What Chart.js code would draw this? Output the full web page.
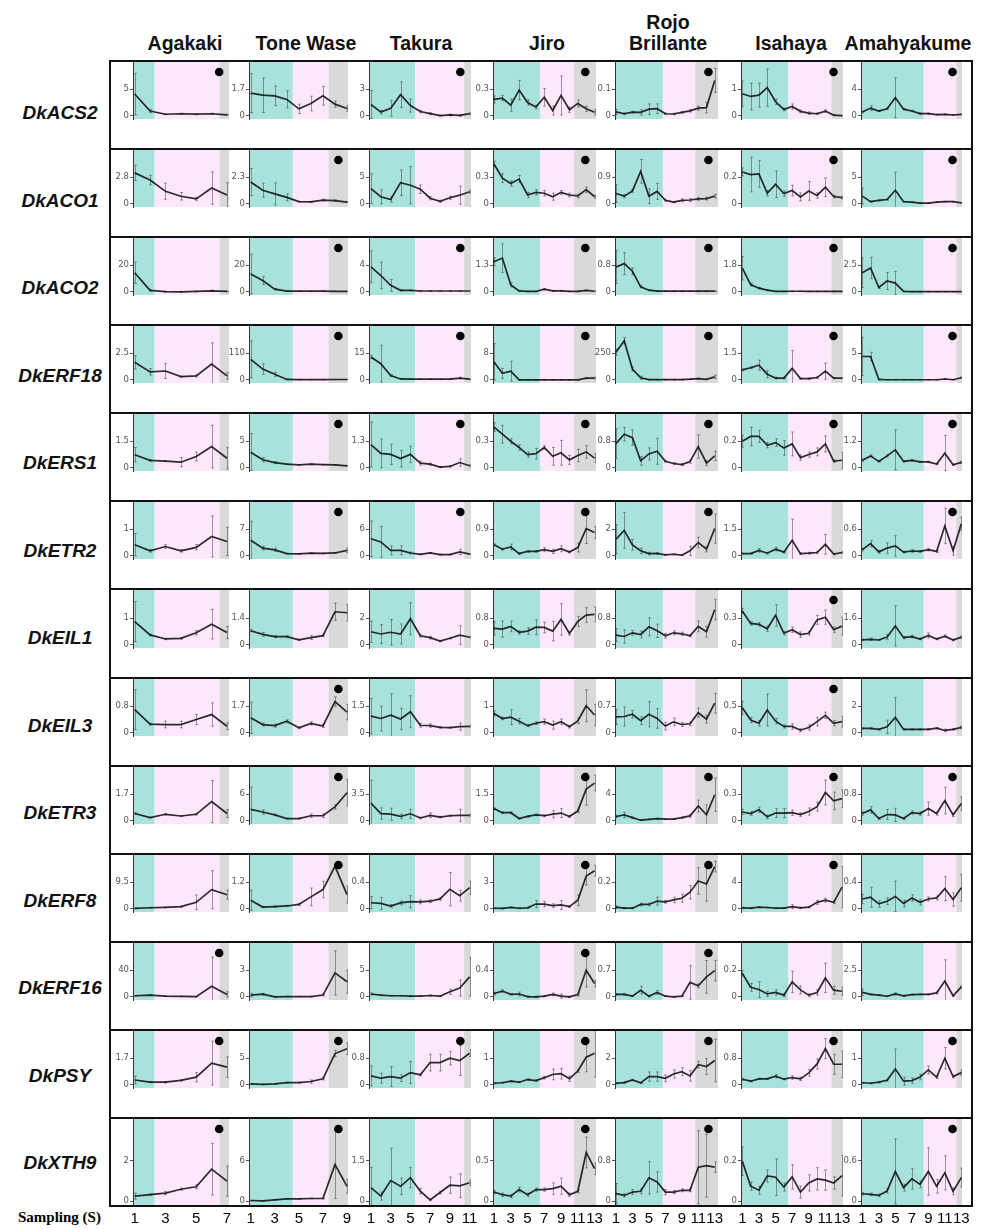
<!DOCTYPE html>
<html>
<head>
<meta charset="utf-8">
<script src="https://cdn.jsdelivr.net/npm/chart.js@4.4.0/dist/chart.umd.min.js"></script>
<style>
  html, body { margin: 0; padding: 0; background: #fff; }
  #page { position: relative; width: 986px; height: 1229px; overflow: hidden; font-family: "Liberation Sans", Arial, sans-serif; }
  #page canvas { position: absolute; }
  .hdr { position: absolute; font-weight: bold; font-size: 19.5px; line-height: 21px; text-align: center; transform: translateX(-50%); white-space: nowrap; color: #111; }
  .gene { position: absolute; font-weight: bold; font-style: italic; font-size: 19px; transform: translate(-50%, -50%); white-space: nowrap; color: #111; }
  .rule { position: absolute; background: #111; z-index: 5; }
  .samp { position: absolute; left: 18px; top: 1209px; font-family: "Liberation Serif", "Times New Roman", serif; font-weight: bold; font-size: 15px; }
</style>
</head>
<body>
<div id="page"></div>
<script>
// ---- data ----
const genes = ["DkACS2", "DkACO1", "DkACO2", "DkERF18", "DkERS1", "DkETR2", "DkEIL1", "DkEIL3", "DkETR3", "DkERF8", "DkERF16", "DkPSY", "DkXTH9"];
const cultivars = ["Agakaki", "Tone Wase", "Takura", "Jiro", "Rojo\nBrillante", "Isahaya", "Amahyakume"];

const samplingAgakaki = [1, 2, 3, 4, 5, 6, 7];
const samplingToneWase = [1, 2, 3, 4, 5, 6, 7, 8, 9];
const samplingTakura = [1, 2, 3, 4, 5, 6, 7, 8, 9, 10, 11];
const sampling13 = [1, 2, 3, 4, 5, 6, 7, 8, 9, 10, 11, 12, 13];

// stage limits on the sampling axis: green (pre), pink, grey (until axis end)
const axisMin = [0.89, 0.86, 0.8, 0.88, 0.88, 0.84, 0.84];
const axisMax = [7.13, 9.08, 11.14, 13.17, 13.4, 13.12, 13.08];
const greenEnd = [2.3, 4.5, 5.49, 6.48, 6.7, 6.52, 8.45];
const pinkEnd = [6.52, 7.47, 10.45, 10.56, 10.63, 11.72, 12.39];
const markerAt = [6.49, 8.28, 10.06, 11.89, 12.24, 11.98, 11.93];

// upper y tick label per gene (row) and cultivar (column)
const yTicks = [
  [5, 1.7, 3, 0.3, 0.1, 1, 4],
  [2.8, 2.3, 5, 0.3, 0.9, 0.2, 5],
  [20, 20, 4, 1.3, 0.8, 1.8, 2.5],
  [2.5, 110, 15, 8, 250, 1.5, 5],
  [1.5, 5, 1.3, 0.3, 0.8, 0.2, 1.2],
  [1, 7, 6, 0.9, 2, 1.5, 0.6],
  [1, 1.4, 2, 0.8, 0.8, 0.3, 1.6],
  [0.8, 1.7, 1.5, 1, 0.7, 0.5, 2],
  [1.7, 6, 3.5, 1.5, 4, 0.3, 0.8],
  [9.5, 1.2, 0.4, 3, 0.2, 4, 0.4],
  [40, 3, 5, 0.4, 0.7, 0.2, 2.5],
  [1.7, 5, 0.8, 1, 2, 0.8, 1],
  [2, 6, 1.5, 0.5, 0.8, 0.2, 0.6]
];

// black dot marker present?
const dots = [
  [1, 0, 1, 1, 1, 1, 1],
  [0, 1, 0, 1, 1, 1, 1],
  [0, 1, 1, 1, 1, 1, 1],
  [0, 1, 1, 1, 1, 1, 1],
  [0, 1, 1, 1, 1, 1, 1],
  [0, 1, 1, 1, 1, 0, 1],
  [0, 0, 0, 0, 0, 1, 0],
  [0, 1, 0, 0, 0, 1, 0],
  [0, 1, 0, 1, 1, 1, 1],
  [0, 1, 0, 1, 1, 1, 0],
  [1, 0, 0, 1, 1, 0, 0],
  [1, 1, 1, 1, 1, 1, 1],
  [1, 1, 0, 1, 1, 0, 1]
];

const agakakiMean = [
  [4.1, 0.9, 0.3, 0.4, 0.33, 0.4, 0.2],
  [3.26, 2.5, 1.32, 0.8, 0.52, 1.66, 0.93],
  [14.4, 1.15, 0.16, 0, 0.3, 0.8, 0.3],
  [1.65, 0.75, 0.83, 0.3, 0.37, 1.48, 0.37],
  [0.74, 0.42, 0.38, 0.32, 0.64, 1.2, 0.54],
  [0.42, 0.19, 0.35, 0.19, 0.32, 0.73, 0.54],
  [0.87, 0.37, 0.22, 0.24, 0.45, 0.77, 0.46],
  [0.7, 0.26, 0.25, 0.25, 0.4, 0.55, 0.2],
  [0.47, 0.21, 0.42, 0.31, 0.42, 1.23, 0.47],
  [0.16, 0.4, 0.55, 0.78, 2.34, 6.85, 5.06],
  [1.7, 2.7, 1.0, 0.7, 0.3, 16, 3.7],
  [0.31, 0.17, 0.17, 0.29, 0.49, 1.39, 1.13],
  [0.25, 0.32, 0.4, 0.59, 0.71, 1.58, 0.99]
];
const agakakiErr = [
  [3.9, 0.3, 0.1, 0.1, 0.1, 0.1, 0.1],
  [0.8, 0.5, 0.85, 0.4, 0.15, 1.7, 1.3],
  [8, 0.5, 0.2, 0.1, 0.2, 0.5, 0.2],
  [0.63, 0.3, 0.7, 0.05, 0.1, 2.0, 0.3],
  [0.4, 0.05, 0.03, 0.25, 0.25, 1.2, 0.6],
  [0.42, 0.05, 0.07, 0.05, 0.1, 0.77, 0.53],
  [0.75, 0.03, 0.03, 0.03, 0.08, 0.55, 0.23],
  [0.6, 0.03, 0.1, 0.1, 0.15, 0.35, 0.1],
  [0.05, 0.03, 0.05, 0.03, 0.05, 1.35, 0.25],
  [0.1, 0.1, 0.1, 0.2, 2.6, 6.8, 1.6],
  [0.5, 0.5, 0.3, 0.2, 0.2, 44, 4],
  [0.25, 0.03, 0.05, 0.05, 0.3, 1.4, 0.65],
  [0.15, 0.03, 0.08, 0.05, 0.1, 1.27, 0.74]
];

const toneWaseMean = [
  [1.45, 1.32, 1.28, 1.05, 0.45, 0.79, 1.28, 0.75, 0.47],
  [1.89, 1.18, 0.86, 0.56, 0.19, 0.17, 0.32, 0.28, 0.15],
  [13.4, 8.5, 2.0, 0.5, 0.5, 0.5, 0.5, 0.4, 0.3],
  [85, 44.7, 23, 1.8, 1, 1, 1, 1.5, 1.5],
  [2.95, 1.52, 0.98, 0.7, 0.57, 0.7, 0.61, 0.57, 0.37],
  [4.1, 2.04, 1.58, 0.58, 0.53, 0.7, 0.64, 0.76, 1.46],
  [0.74, 0.55, 0.43, 0.43, 0.26, 0.38, 0.48, 1.73, 1.68],
  [0.96, 0.53, 0.46, 0.74, 0.32, 0.6, 0.44, 2.0, 1.33],
  [2.6, 2.0, 1.35, 0.5, 0.5, 1.15, 1.15, 3.15, 6.35],
  [0.39, 0.08, 0.1, 0.13, 0.2, 0.54, 0.87, 1.92, 0.64],
  [0.2, 0.3, 0, 0.03, 0.03, 0.03, 0.2, 2.7, 1.7],
  [0.17, 0.08, 0.17, 0.42, 0.42, 0.63, 1.13, 5.88, 6.8],
  [0.1, 0.05, 0.2, 0.35, 0.35, 0.4, 0.4, 5.4, 2.2]
];
const toneWaseErr = [
  [1.25, 1.1, 0.63, 0.55, 0.3, 0.47, 0.6, 0.2, 0.18],
  [1.17, 0.6, 0.95, 0.3, 0.03, 0.03, 0.08, 0.08, 0.05],
  [15, 3, 0.5, 0.2, 0.1, 0.1, 0.1, 0.1, 0.1],
  [76, 22, 8, 0.5, 0.3, 0.3, 0.3, 0.3, 0.3],
  [3.5, 0.4, 0.2, 0.05, 0.05, 0.1, 0.05, 0.05, 0.05],
  [5, 0.5, 0.4, 0.1, 0.05, 0.1, 0.1, 0.1, 0.6],
  [0.05, 0.1, 0.05, 0.05, 0.03, 0.1, 0.05, 0.45, 0.43],
  [1.0, 0.1, 0.1, 0.1, 0.05, 0.1, 0.1, 0.3, 0.5],
  [5, 0.5, 0.2, 0.1, 0.1, 0.4, 0.4, 0.5, 3.0],
  [0.45, 0.03, 0.03, 0.03, 0.05, 0.4, 0.37, 0.1, 0.38],
  [0.2, 0.1, 0.02, 0.02, 0.02, 0.02, 0.1, 2.5, 1.3],
  [0.1, 0.05, 0.05, 0.1, 0.1, 0.3, 0.2, 0.6, 1.1],
  [0.05, 0.03, 0.05, 0.05, 0.05, 0.05, 0.05, 5.0, 1.0]
];

const takuraMean = [
  [1.28, 0.42, 0.86, 2.39, 1.16, 0.49, 0.25, 0.02, 0.1, 0.05, 0.25],
  [2.85, 1.34, 0.81, 3.98, 3.5, 2.76, 1.06, 0.49, 1.14, 1.63, 2.28],
  [3.77, 2.46, 0.98, 0.23, 0.23, 0.13, 0.13, 0.13, 0.13, 0.13, 0.13],
  [12.9, 9.1, 2.4, 0.5, 0.37, 0.37, 0.37, 0.37, 0.37, 1.0, 0.37],
  [1.14, 0.71, 0.66, 0.45, 0.66, 0.23, 0.18, 0.04, 0.07, 0.26, 0.1],
  [3.85, 3.15, 1.25, 1.25, 0.65, 0.35, 0.65, 0.3, 0.3, 0.9, 0.4],
  [0.98, 0.81, 0.94, 0.81, 1.95, 0.68, 0.54, 0.28, 0.49, 0.73, 0.57],
  [0.94, 0.81, 1.0, 0.78, 1.19, 0.43, 0.41, 0.31, 0.29, 0.35, 0.37],
  [2.33, 0.96, 0.875, 0.58, 0.93, 0.38, 0.73, 0.5, 0.67, 0.73, 0.73],
  [0.092, 0.082, 0.043, 0.089, 0.108, 0.105, 0.115, 0.15, 0.295, 0.197, 0.318],
  [0.54, 0.33, 0.21, 0.21, 0.13, 0.13, 0.25, 0.13, 0.96, 1.67, 3.75],
  [0.27, 0.2, 0.25, 0.2, 0.37, 0.3, 0.67, 0.67, 0.8, 0.73, 0.95],
  [0.5, 0.19, 0.76, 0.55, 0.87, 0.37, 0.05, 0.32, 0.59, 0.57, 0.68]
];
const takuraErr = [
  [1.6, 0.2, 0.9, 1.45, 0.74, 0.15, 0.1, 0.05, 0.1, 0.1, 0.1],
  [2.8, 1.3, 0.5, 2.4, 3.5, 0.8, 0.3, 0.2, 0.3, 1.7, 0.3],
  [2.4, 2.0, 0.9, 0.1, 0.05, 0.03, 0.03, 0.03, 0.03, 0.03, 0.03],
  [1.0, 10.4, 0.5, 0.2, 0.1, 0.1, 0.1, 0.1, 0.1, 0.5, 0.2],
  [1.1, 0.7, 0.5, 0.4, 0.4, 0.1, 0.05, 0.03, 0.03, 0.18, 0.05],
  [4, 3.5, 1.0, 1.0, 0.2, 0.1, 0.1, 0.1, 0.1, 0.6, 0.1],
  [0.8, 0.7, 0.95, 0.75, 1.2, 0.1, 0.1, 0.05, 0.05, 0.7, 0.05],
  [1.0, 0.7, 1.2, 0.6, 0.9, 0.1, 0.1, 0.05, 0.03, 0.2, 0.05],
  [3.0, 0.75, 0.8, 0.3, 0.6, 0.1, 0.3, 0.1, 0.1, 0.8, 0.1],
  [0.09, 0.09, 0.02, 0.03, 0.09, 0.03, 0.02, 0.02, 0.25, 0.08, 0.1],
  [0.2, 0.1, 0.05, 0.05, 0.05, 0.05, 0.1, 0.05, 0.5, 1.5, 3.6],
  [0.3, 0.15, 0.3, 0.1, 0.33, 0.03, 0.25, 0.25, 0.2, 0.45, 0.1],
  [0.75, 0.15, 1.2, 0.3, 0.37, 0.1, 0.03, 0.05, 0.3, 0.44, 0.1]
];

const jiroMean = [
  [0.185, 0.2, 0.12, 0.29, 0.15, 0.1, 0.21, 0.06, 0.23, 0.07, 0.14, 0.08, 0.04],
  [0.45, 0.29, 0.23, 0.28, 0.1, 0.13, 0.12, 0.08, 0.13, 0.1, 0.09, 0.16, 0.08],
  [1.47, 1.65, 0.34, 0.05, 0.02, 0.02, 0.13, 0.05, 0.05, 0.02, 0.02, 0.07, 0.03],
  [5.4, 1.95, 2.6, 0, 0, 0, 0, 0, 0, 0, 0, 0.52, 0.52],
  [0.46, 0.38, 0.3, 0.23, 0.15, 0.16, 0.23, 0.13, 0.17, 0.09, 0.14, 0.18, 0.11],
  [0.375, 0.225, 0.3, 0.075, 0.15, 0.15, 0.21, 0.15, 0.24, 0.13, 0.28, 0.92, 0.79],
  [0.49, 0.47, 0.55, 0.37, 0.41, 0.53, 0.52, 0.41, 0.76, 0.34, 0.7, 0.89, 0.91],
  [0.73, 0.54, 0.59, 0.44, 0.27, 0.36, 0.42, 0.29, 0.42, 0.23, 0.45, 1.02, 0.67],
  [0.69, 0.46, 0.46, 0.13, 0.25, 0.34, 0.29, 0.375, 0.44, 0.25, 0.56, 1.79, 2.13],
  [0.07, 0.05, 0.17, 0.07, 0.12, 0.54, 0.54, 0.37, 0.44, 0.25, 0.98, 3.69, 4.3],
  [0.05, 0.087, 0.037, 0.043, 0.003, 0, 0.01, 0.037, 0.01, 0, 0.033, 0.4, 0.2],
  [0.06, 0.08, 0.14, 0.1, 0.2, 0.16, 0.27, 0.39, 0.42, 0.23, 0.52, 1.04, 1.19],
  [0.113, 0.08, 0.063, 0.143, 0.08, 0.143, 0.143, 0.155, 0.185, 0.08, 0.122, 0.6, 0.4]
];
const jiroErr = [
  [0.04, 0.03, 0.07, 0.11, 0.03, 0.02, 0.1, 0.05, 0.22, 0.03, 0.04, 0.03, 0.03],
  [0.03, 0.05, 0.03, 0.04, 0.03, 0.03, 0.03, 0.04, 0.02, 0.02, 0.02, 0.03, 0.02],
  [0.2, 0.7, 0.1, 0.02, 0.01, 0.01, 0.04, 0.02, 0.02, 0.01, 0.01, 0.02, 0.01],
  [5.5, 1.5, 3.0, 0.05, 0.05, 0.05, 0.05, 0.05, 0.05, 0.05, 0.05, 0.2, 0.3],
  [0.05, 0.1, 0.03, 0.03, 0.03, 0.06, 0.02, 0.1, 0.14, 0.05, 0.07, 0.07, 0.05],
  [0.03, 0.03, 0.1, 0.03, 0.03, 0.03, 0.07, 0.07, 0.1, 0.03, 0.15, 0.5, 0.2],
  [0.2, 0.24, 0.16, 0.05, 0.1, 0.22, 0.16, 0.29, 0.47, 0.05, 0.15, 0.22, 0.22],
  [0.1, 0.05, 0.28, 0.1, 0.03, 0.05, 0.1, 0.15, 0.1, 0.05, 0.1, 0.6, 0.4],
  [0.05, 0.05, 0.05, 0.03, 0.05, 0.05, 0.05, 0.2, 0.25, 0.05, 0.1, 0.9, 0.44],
  [0.05, 0.05, 0.05, 0.05, 0.05, 0.4, 0.3, 0.2, 0.5, 0.1, 0.6, 1.0, 0.6],
  [0.02, 0.02, 0.01, 0.03, 0.01, 0.01, 0.01, 0.02, 0.03, 0.01, 0.02, 0.25, 0.05],
  [0.02, 0.02, 0.02, 0.02, 0.03, 0.03, 0.05, 0.2, 0.2, 0.1, 0.05, 0.55, 0.9],
  [0.02, 0.02, 0.02, 0.03, 0.02, 0.02, 0.02, 0.07, 0.1, 0.02, 0.02, 0.19, 0.07]
];

const rojoMean = [
  [0.015, 0.008, 0.014, 0.013, 0.025, 0.027, 0.008, 0.007, 0.013, 0.019, 0.029, 0.031, 0.133],
  [0.35, 0.26, 0.44, 1.1, 0.26, 0.42, 0.12, 0.06, 0.12, 0.13, 0.17, 0.18, 0.26],
  [0.75, 0.85, 0.62, 0.15, 0.05, 0.02, 0.02, 0.02, 0.02, 0.02, 0.02, 0.02, 0.02],
  [260, 368, 102, 20, 2, 2, 2, 2, 2, 6, 12, 4, 28],
  [0.73, 1.01, 0.91, 0.21, 0.42, 0.5, 0.2, 0.13, 0.1, 0.19, 0.64, 0.14, 0.36],
  [1.25, 1.92, 0.83, 0.38, 0.17, 0.18, 0.08, 0.12, 0.05, 0.38, 1.0, 0.5, 2.05],
  [0.29, 0.25, 0.36, 0.31, 0.54, 0.42, 0.27, 0.36, 0.33, 0.27, 0.55, 0.39, 1.05],
  [0.42, 0.43, 0.49, 0.32, 0.49, 0.38, 0.18, 0.29, 0.22, 0.24, 0.53, 0.36, 0.78],
  [0.66, 0.89, 0.49, 0.1, 0.23, 0.33, 0.26, 0.26, 0.49, 0.75, 2.23, 0.92, 3.93],
  [0.013, 0.005, 0.005, 0.033, 0.033, 0.058, 0.053, 0.067, 0.08, 0.125, 0.21, 0.187, 0.317],
  [0.064, 0.064, 0.018, 0.175, 0.018, 0.117, 0.018, 0, 0.018, 0.38, 0.29, 0.525, 0.69],
  [0.12, 0.17, 0.37, 0.15, 0.62, 0.62, 0.49, 0.82, 0.99, 0.67, 1.51, 1.38, 1.83],
  [0.148, 0.114, 0.18, 0.195, 0.46, 0.38, 0.18, 0.18, 0.215, 0.215, 0.67, 0.7, 0.67]
];
const rojoErr = [
  [0.01, 0.003, 0.003, 0.01, 0.02, 0.018, 0.003, 0.003, 0.003, 0.005, 0.008, 0.02, 0.045],
  [0.3, 0.05, 0.05, 0.4, 0.25, 0.27, 0.03, 0.02, 0.05, 0.05, 0.05, 0.05, 0.06],
  [0.5, 0.33, 0.1, 0.03, 0.01, 0.01, 0.01, 0.01, 0.01, 0.01, 0.01, 0.01, 0.01],
  [30, 30, 20, 15, 2, 2, 2, 2, 2, 3, 5, 2, 15],
  [0.45, 0.2, 0.23, 0.13, 0.18, 0.39, 0.03, 0.03, 0.03, 0.05, 0.35, 0.07, 0.14],
  [1.1, 1.35, 0.4, 0.2, 0.1, 0.05, 0.03, 0.03, 0.02, 0.35, 0.4, 0.2, 1.1],
  [0.2, 0.2, 0.07, 0.1, 0.27, 0.2, 0.07, 0.06, 0.05, 0.03, 0.16, 0.16, 0.3],
  [0.2, 0.25, 0.1, 0.1, 0.33, 0.26, 0.1, 0.1, 0.05, 0.05, 0.12, 0.1, 0.26],
  [0.2, 0.4, 0.1, 0.05, 0.05, 0.05, 0.05, 0.05, 0.1, 0.2, 0.9, 1.5, 2.5],
  [0.01, 0.005, 0.005, 0.01, 0.01, 0.03, 0.01, 0.02, 0.03, 0.05, 0.1, 0.13, 0.04],
  [0.02, 0.02, 0.01, 0.1, 0.02, 0.05, 0.01, 0.01, 0.01, 0.44, 0.05, 0.43, 0.27],
  [0.05, 0.05, 0.05, 0.05, 0.35, 0.35, 0.25, 0.3, 0.3, 0.4, 0.25, 0.6, 1.6],
  [0.2, 0.03, 0.05, 0.05, 0.32, 0.2, 0.05, 0.03, 0.03, 0.03, 0.72, 0.62, 0.1]
];

const isahayaMean = [
  [0.83, 0.73, 0.78, 1.06, 0.53, 0.24, 0.35, 0.17, 0.1, 0.08, 0.18, 0.03, 0.01],
  [0.24, 0.22, 0.225, 0.08, 0.147, 0.077, 0.1, 0.052, 0.097, 0.063, 0.125, 0.055, 0.047],
  [1.6, 0.49, 0.25, 0.12, 0.03, 0.03, 0.04, 0.04, 0.03, 0.03, 0.03, 0.03, 0.03],
  [0.56, 0.68, 0.83, 0.32, 0.1, 0.1, 0.65, 0.07, 0.07, 0.13, 0.49, 0.1, 0.1],
  [0.2, 0.236, 0.236, 0.17, 0.19, 0.15, 0.18, 0.077, 0.1, 0.12, 0.18, 0.05, 0.057],
  [0.125, 0.125, 0.31, 0.15, 0.38, 0.21, 0.875, 0.125, 0.15, 0.19, 0.65, 0.1, 0.19],
  [0.38, 0.24, 0.23, 0.18, 0.33, 0.13, 0.17, 0.115, 0.13, 0.28, 0.31, 0.17, 0.21],
  [0.47, 0.24, 0.18, 0.43, 0.22, 0.12, 0.12, 0.05, 0.1, 0.21, 0.33, 0.18, 0.21],
  [0.1, 0.083, 0.125, 0.045, 0.088, 0.088, 0.093, 0.07, 0.105, 0.16, 0.32, 0.225, 0.25],
  [0.16, 0.1, 0.26, 0.2, 0.1, 0.1, 0.33, 0.16, 0.26, 0.98, 1.31, 0.98, 3.28],
  [0.177, 0.072, 0.055, 0.022, 0.033, 0.013, 0.113, 0.052, 0.013, 0.033, 0.142, 0.05, 0.042],
  [0.17, 0.11, 0.18, 0.18, 0.26, 0.17, 0.22, 0.18, 0.36, 0.63, 1.09, 0.62, 0.62],
  [0.197, 0.074, 0.054, 0.124, 0.118, 0.07, 0.12, 0.045, 0.09, 0.11, 0.104, 0.09, 0.126]
];
const isahayaErr = [
  [0.48, 0.5, 0.45, 0.7, 0.1, 0.05, 0.1, 0.05, 0.05, 0.03, 0.05, 0.02, 0.01],
  [0.03, 0.13, 0.1, 0.02, 0.1, 0.02, 0.04, 0.03, 0.07, 0.02, 0.07, 0.01, 0.01],
  [0.8, 0.1, 0.05, 0.03, 0.01, 0.01, 0.02, 0.01, 0.01, 0.01, 0.01, 0.01, 0.01],
  [0.05, 0.05, 0.28, 0.2, 0.05, 0.05, 1.0, 0.03, 0.03, 0.05, 0.45, 0.03, 0.03],
  [0.045, 0.07, 0.045, 0.02, 0.03, 0.055, 0.09, 0.02, 0.02, 0.03, 0.06, 0.01, 0.06],
  [0.03, 0.03, 0.1, 0.05, 0.1, 0.05, 1.2, 0.05, 0.05, 0.05, 0.55, 0.03, 0.05],
  [0.03, 0.02, 0.02, 0.03, 0.12, 0.02, 0.03, 0.03, 0.02, 0.05, 0.08, 0.03, 0.1],
  [0.12, 0.05, 0.05, 0.3, 0.05, 0.03, 0.05, 0.03, 0.05, 0.08, 0.06, 0.05, 0.1],
  [0.03, 0.02, 0.03, 0.02, 0.05, 0.05, 0.03, 0.02, 0.04, 0.05, 0.14, 0.1, 0.1],
  [0.1, 0.05, 0.05, 0.05, 0.05, 0.05, 0.3, 0.1, 0.1, 0.3, 0.3, 0.2, 3.1],
  [0.02, 0.03, 0.06, 0.02, 0.02, 0.01, 0.08, 0.03, 0.01, 0.02, 0.11, 0.03, 0.03],
  [0.03, 0.02, 0.02, 0.02, 0.05, 0.02, 0.05, 0.05, 0.1, 0.15, 0.3, 0.3, 0.4],
  [0.07, 0.02, 0.02, 0.03, 0.09, 0.02, 0.06, 0.03, 0.04, 0.055, 0.05, 0.03, 0.1]
];

const amahyakumeMean = [
  [0.57, 1.17, 0.73, 1.07, 2.73, 1.0, 0.73, 0.33, 0.33, 0.2, 0.23, 0.13, 0.23],
  [1.46, 0.41, 0.65, 0.81, 2.56, 0.41, 0.33, 0.12, 0.12, 0.33, 0.41, 0.41, 0.2],
  [1.8, 2.25, 0.41, 1.02, 0.82, 0.04, 0.02, 0.02, 0.02, 0.02, 0.02, 0.02, 0.02],
  [4.39, 4.39, 0.08, 0.02, 0.02, 0.02, 0.02, 0.02, 0.02, 0.02, 0.16, 0.02, 0.4],
  [0.34, 0.54, 0.29, 0.54, 0.81, 0.29, 0.34, 0.27, 0.27, 0.17, 0.66, 0.14, 0.25],
  [0.14, 0.275, 0.09, 0.175, 0.225, 0.085, 0.11, 0.1, 0.14, 0.1, 0.675, 0.115, 0.725],
  [0.3, 0.33, 0.29, 0.46, 1.13, 0.43, 0.49, 0.35, 0.56, 0.35, 0.52, 0.29, 0.46],
  [0.33, 0.33, 0.26, 0.46, 1.16, 0.26, 0.26, 0.26, 0.26, 0.35, 0.18, 0.26, 0.41],
  [0.22, 0.33, 0.07, 0.19, 0.18, 0.07, 0.25, 0.22, 0.37, 0.22, 0.61, 0.18, 0.52],
  [0.148, 0.174, 0.075, 0.115, 0.187, 0.082, 0.164, 0.098, 0.148, 0.164, 0.305, 0.141, 0.318],
  [0.42, 0.23, 0.17, 0.06, 0.27, 0.1, 0.21, 0.23, 0.23, 0.375, 1.48, 0.1, 0.94],
  [0.08, 0.06, 0.1, 0.17, 0.6, 0.14, 0.16, 0.29, 0.56, 0.29, 1.0, 0.31, 0.46],
  [0.11, 0.1, 0.086, 0.15, 0.44, 0.2, 0.33, 0.25, 0.44, 0.22, 0.42, 0.146, 0.35]
];
const amahyakumeErr = [
  [0.1, 0.35, 0.1, 0.1, 3.0, 0.1, 0.1, 0.1, 0.1, 0.05, 0.05, 0.05, 0.05],
  [1.5, 0.1, 0.1, 0.1, 3.4, 0.05, 0.05, 0.05, 0.05, 0.05, 0.05, 0.05, 0.05],
  [1.4, 1.0, 0.1, 0.8, 1.1, 0.02, 0.01, 0.01, 0.01, 0.01, 0.01, 0.01, 0.01],
  [3.6, 0.8, 0.1, 0.02, 0.02, 0.02, 0.02, 0.02, 0.02, 0.02, 0.1, 0.02, 0.15],
  [0.05, 0.05, 0.03, 0.05, 0.9, 0.03, 0.03, 0.03, 0.03, 0.03, 0.8, 0.03, 0.05],
  [0.03, 0.07, 0.03, 0.12, 0.23, 0.02, 0.03, 0.02, 0.03, 0.02, 0.4, 0.1, 0.15],
  [0.05, 0.07, 0.03, 0.15, 1.2, 0.07, 0.07, 0.05, 0.15, 0.05, 0.07, 0.05, 0.07],
  [0.05, 0.05, 0.05, 0.5, 1.5, 0.05, 0.05, 0.05, 0.05, 0.05, 0.1, 0.05, 0.1],
  [0.05, 0.1, 0.03, 0.15, 0.2, 0.03, 0.05, 0.05, 0.2, 0.05, 0.4, 0.05, 0.2],
  [0.07, 0.15, 0.05, 0.05, 0.23, 0.05, 0.05, 0.04, 0.03, 0.03, 0.18, 0.1, 0.2],
  [0.3, 0.05, 0.05, 0.03, 0.1, 0.03, 0.03, 0.03, 0.03, 0.1, 2.0, 0.05, 0.1],
  [0.02, 0.02, 0.03, 0.03, 0.75, 0.15, 0.1, 0.1, 0.15, 0.05, 0.4, 0.05, 0.1],
  [0.02, 0.02, 0.02, 0.03, 0.48, 0.05, 0.15, 0.05, 0.35, 0.1, 0.25, 0.05, 0.14]
];

const columns = [
  { x: samplingAgakaki, mean: agakakiMean, err: agakakiErr },
  { x: samplingToneWase, mean: toneWaseMean, err: toneWaseErr },
  { x: samplingTakura, mean: takuraMean, err: takuraErr },
  { x: sampling13, mean: jiroMean, err: jiroErr },
  { x: sampling13, mean: rojoMean, err: rojoErr },
  { x: sampling13, mean: isahayaMean, err: isahayaErr },
  { x: sampling13, mean: amahyakumeMean, err: amahyakumeErr }
];

// ---- layout ----
const ROW_TOP = 61, ROW_H = 88.08;
const GRID_LEFT = 110, GRID_RIGHT = 971;
const colAxis = [133, 249, 369, 493, 615, 741, 861];
const colEnd = [229, 348, 471, 596, 718, 843, 962];
const headerX = [185, 306, 421, 547, 668, 791, 908];
const LABEL_W = 24, X_AXIS_H = 30, X_PAD_R = 12;
const TICK_PX = 40.6, ZERO_OFF = 4.8;

const GREEN = "#a7e3da", PINK = "#fde8fb", GREY = "#d9d9d9";

const panelDecor = {
  id: "panelDecor",
  beforeDraw(chart, args, o) {
    const { ctx, chartArea: a, scales: { x } } = chart;
    const g = x.getPixelForValue(o.greenEnd);
    const p = x.getPixelForValue(o.pinkEnd);
    ctx.save();
    ctx.fillStyle = GREEN; ctx.fillRect(a.left, a.top, g - a.left, a.height);
    ctx.fillStyle = PINK; ctx.fillRect(g, a.top, p - g, a.height);
    ctx.fillStyle = GREY; ctx.fillRect(p, a.top, a.right - p, a.height);
    ctx.restore();
  },
  beforeDatasetsDraw(chart, args, o) {
    const { ctx, chartArea: a, scales: { x, y } } = chart;
    const pts = chart.data.datasets[0].data;
    ctx.save();
    ctx.beginPath(); ctx.rect(a.left, a.top, a.width, a.height); ctx.clip();
    ctx.strokeStyle = "rgba(60,60,60,0.5)";
    ctx.lineWidth = 1;
    pts.forEach((pt, i) => {
      const e = o.err[i];
      if (!e) return;
      const px = Math.round(x.getPixelForValue(pt.x)) + 0.5;
      const y1 = y.getPixelForValue(pt.y + e), y2 = y.getPixelForValue(pt.y - e);
      ctx.beginPath();
      ctx.moveTo(px, y1); ctx.lineTo(px, y2);
      ctx.moveTo(px - 1.5, y1); ctx.lineTo(px + 1.5, y1);
      ctx.moveTo(px - 1.5, y2); ctx.lineTo(px + 1.5, y2);
      ctx.stroke();
    });
    ctx.restore();
  },
  afterDatasetsDraw(chart, args, o) {
    if (!o.dot) return;
    const { ctx, chartArea: a, scales: { x } } = chart;
    ctx.save();
    ctx.fillStyle = "#000";
    ctx.beginPath();
    ctx.arc(x.getPixelForValue(o.dotX), a.top + 10, 4.3, 0, Math.PI * 2);
    ctx.fill();
    ctx.restore();
  }
};

const page = document.getElementById("page");

function addDiv(cls, text, css) {
  const d = document.createElement("div");
  d.className = cls;
  d.textContent = text;
  Object.assign(d.style, css);
  page.appendChild(d);
  return d;
}

cultivars.forEach((name, c) => {
  const lines = name.split("\n");
  const d = addDiv("hdr", "", { left: headerX[c] + "px", top: (33 - (lines.length - 1) * 21) + "px" });
  d.innerHTML = lines.join("<br>");
});

genes.forEach((g, r) => {
  addDiv("gene", g, { left: "60px", top: (113 + 87.5 * r) + "px" });
});

genes.forEach((gene, r) => {
  const last = r === genes.length - 1;
  const top = Math.round(ROW_TOP + r * ROW_H) + 1;
  const bottom = Math.round(ROW_TOP + (r + 1) * ROW_H);
  const plotH = bottom - top;

  columns.forEach((col, c) => {
    const T = yTicks[r][c];
    const canvas = document.createElement("canvas");
    canvas.width = colEnd[c] - colAxis[c] + LABEL_W + (last ? X_PAD_R : 0);
    canvas.height = plotH + (last ? X_AXIS_H : 0);
    canvas.style.left = (colAxis[c] - LABEL_W) + "px";
    canvas.style.top = top + "px";
    page.appendChild(canvas);

    const oddTicks = col.x.filter(v => v % 2 === 1);

    new Chart(canvas, {
      type: "line",
      data: {
        datasets: [{
          data: col.x.map((v, i) => ({ x: v, y: col.mean[r][i] })),
          borderColor: "rgba(18,12,18,0.88)",
          borderWidth: 1.7,
          pointRadius: 0,
          tension: 0,
          fill: false
        }]
      },
      options: {
        responsive: false,
        animation: false,
        devicePixelRatio: 1,
        layout: { padding: { left: 0, top: 0, bottom: 0, right: last ? X_PAD_R : 0 } },
        events: [],
        plugins: {
          legend: { display: false },
          tooltip: { enabled: false },
          panelDecor: { greenEnd: greenEnd[c], pinkEnd: pinkEnd[c], err: col.err[r], dot: !!dots[r][c], dotX: markerAt[c] }
        },
        scales: {
          x: {
            type: "linear",
            min: axisMin[c],
            max: axisMax[c],
            display: last,
            grid: { display: false, drawTicks: false },
            border: { display: false },
            ticks: { autoSkip: false, maxRotation: 0, color: "#000", padding: 4, font: { size: 15, family: "Liberation Sans" } },
            afterBuildTicks: s => { s.ticks = oddTicks.map(v => ({ value: v })); },
            afterFit: s => { s.height = X_AXIS_H; s.paddingLeft = 0; s.paddingRight = 0; }
          },
          y: {
            min: -ZERO_OFF / TICK_PX * T,
            max: (plotH - ZERO_OFF) / TICK_PX * T,
            afterBuildTicks: s => { s.ticks = [{ value: 0 }, { value: T }]; },
            ticks: { color: "#555", padding: 1, font: { size: 8.5, family: "DejaVu Sans" }, callback: v => String(v) },
            grid: { drawOnChartArea: false, drawTicks: true, tickLength: 3, color: "#555" },
            border: { display: true, color: "#333", width: 1 },
            afterFit: s => { s.width = LABEL_W; s.paddingTop = 0; s.paddingBottom = 0; }
          }
        }
      },
      plugins: [panelDecor]
    });
  });
});

// frame and row rules
for (let r = 0; r <= genes.length; r++) {
  const y = Math.round(ROW_TOP + r * ROW_H) - 1;
  addDiv("rule", "", { left: GRID_LEFT + "px", top: y + "px", width: (GRID_RIGHT - GRID_LEFT + 1) + "px", height: "2px" });
}
const gridBottom = Math.round(ROW_TOP + genes.length * ROW_H);
addDiv("rule", "", { left: (GRID_LEFT - 1) + "px", top: (ROW_TOP - 1) + "px", width: "2px", height: (gridBottom - ROW_TOP + 2) + "px" });
addDiv("rule", "", { left: GRID_RIGHT + "px", top: (ROW_TOP - 1) + "px", width: "2px", height: (gridBottom - ROW_TOP + 2) + "px" });

addDiv("samp", "Sampling (S)", {});
</script>
</body>
</html>
